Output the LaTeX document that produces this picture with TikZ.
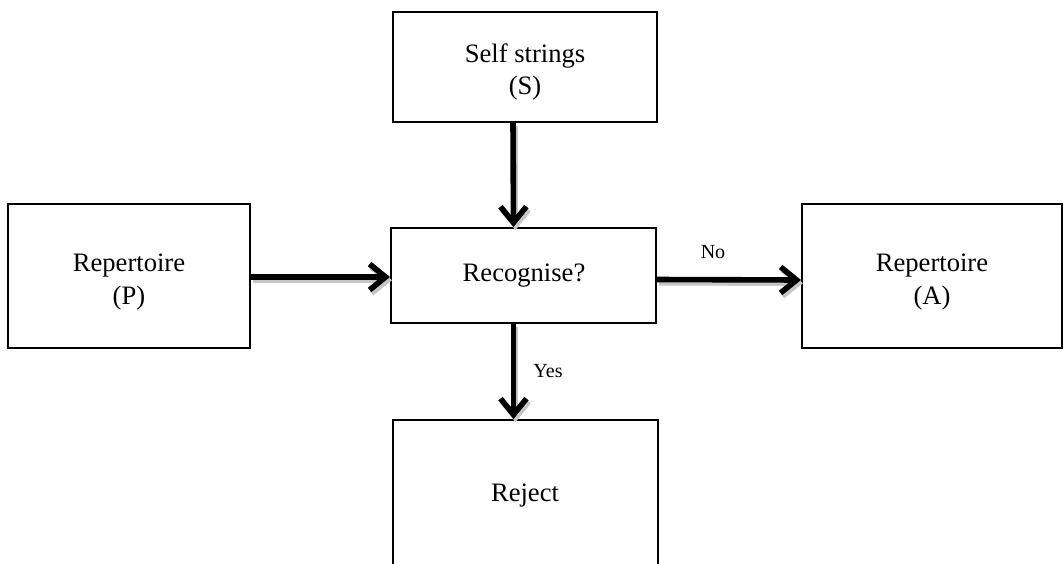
\documentclass[tikz,border=0pt]{standalone}
\usepackage{fontspec}
\setmainfont{Liberation Serif}
\usetikzlibrary{arrows.meta}
\begin{document}
\begin{tikzpicture}[x={(0.5pt,0)},y={(0,-0.5pt)},
  box/.style={draw=black,line width=1pt,inner sep=0pt},
  txt/.style={inner sep=0pt,align=center,font=\fontsize{13.3}{16.3}\selectfont},
  lbl/.style={font=\fontsize{10}{12}\selectfont,inner sep=0pt},
  arr/.style={line width=2.8pt,-{Straight Barb[length=8pt,width=13pt]},
    preaction={draw=gray!45,line width=2.8pt,
      transform canvas={shift={(1pt,-1.6pt)}}}},
]
\clip (0,0) rectangle (1064,563);
\fill[white] (0,0) rectangle (1064,563);
\node[box,minimum width=132pt,minimum height=55pt] (S) at (525,67) {};
\node[box,minimum width=121pt,minimum height=72pt] (P) at (129,276) {};
\node[box,minimum width=130pt,minimum height=72pt] (A) at (932,276) {};
\node[box,minimum width=132.5pt,minimum height=47.5pt] (R) at (523.5,275.5) {};
\node[box,minimum width=132.5pt,minimum height=75pt] (J) at (525.5,495) {};
\node[txt] (St) at (525,72) {Self strings\\(S)};
\node[txt] (Pt) at (129,282) {Repertoire\\(P)};
\node[txt] (At) at (932,282) {Repertoire\\(A)};
\node[txt] (Rt) at (524,276) {Recognise?};
\node[txt] (Jt) at (525,496) {Reject};
\draw[arr] ([xshift=-6pt]S.south) -- ([xshift=-5pt]R.north);
\draw[arr] ([yshift=-0.5pt]P.east) -- ([yshift=-0.75pt]R.east -| R.west);
\draw[arr] ([yshift=-2pt]R.east) -- ([yshift=-2pt]A.west);
\draw[arr] ([xshift=-5pt]R.south) -- ([xshift=-6pt]J.north);
\node[lbl] (no) at (713,252) {No};
\node[lbl] (yes) at (548,371) {Yes};
\end{tikzpicture}
\end{document}
